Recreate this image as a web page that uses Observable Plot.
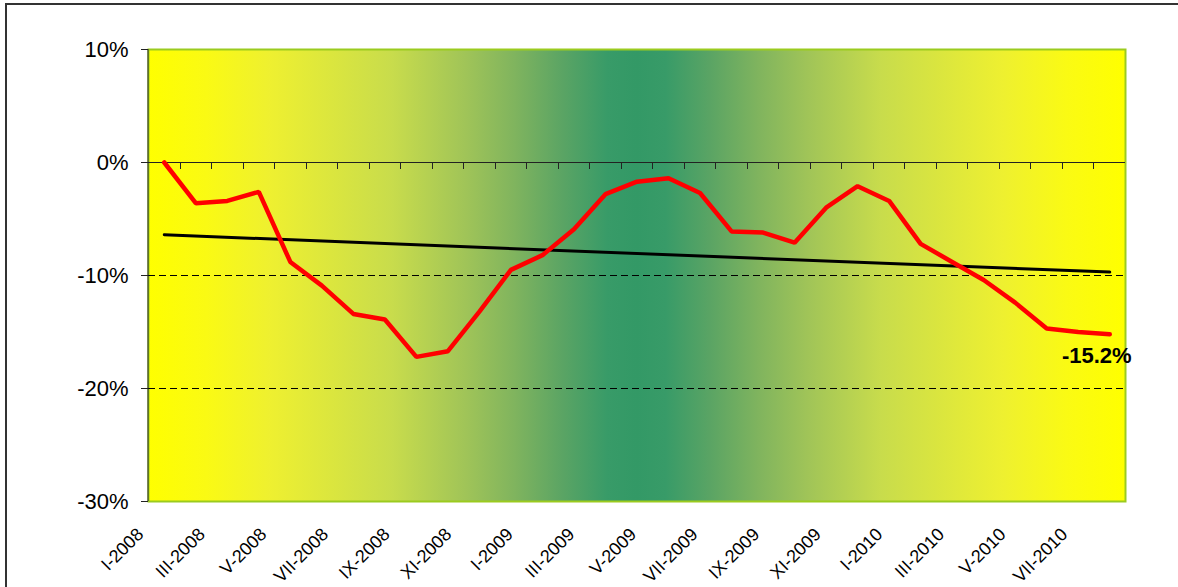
<!DOCTYPE html>
<html>
<head>
<meta charset="utf-8">
<script src="https://cdn.jsdelivr.net/npm/d3@7"></script>
<script src="https://cdn.jsdelivr.net/npm/@observablehq/plot@0.6"></script>
<style>
  html, body { margin: 0; padding: 0; background: #fff; }
  #wrap { position: relative; width: 1178px; height: 587px; overflow: hidden; font-family: "Liberation Sans", Arial, sans-serif; }
  #frame { position: absolute; left: 5px; top: 3px; width: 1300px; height: 700px; border-left: 2px solid #333; border-top: 2px solid #333; }
  #wrap svg { position: absolute; left: 0; top: 0; }
</style>
</head>
<body>
<div id="wrap"><div id="frame"></div></div>
<script>
// ---- data ----
const months = [
  "I-2008","II-2008","III-2008","IV-2008","V-2008","VI-2008","VII-2008","VIII-2008","IX-2008","X-2008","XI-2008","XII-2008",
  "I-2009","II-2009","III-2009","IV-2009","V-2009","VI-2009","VII-2009","VIII-2009","IX-2009","X-2009","XI-2009","XII-2009",
  "I-2010","II-2010","III-2010","IV-2010","V-2010","VI-2010","VII-2010"
];
const values = [
  0.0, -3.6, -3.4, -2.6, -8.8, -10.9, -13.4, -13.9, -17.2, -16.7, -13.2, -9.5,
  -8.2, -5.9, -2.8, -1.7, -1.4, -2.7, -6.1, -6.2, -7.1, -4.0, -2.1, -3.4,
  -7.2, -8.8, -10.4, -12.4, -14.7, -15.0, -15.2
];
const trendMonths = ["I-2008", "VII-2010"];
const trendValues = [-6.4, -9.7];
const yTicks = [-30, -20, -10, 0, 10];
const gridValues = [-10, -20];
const xTickLabels = ["I-2008","III-2008","V-2008","VII-2008","IX-2008","XI-2008","I-2009","III-2009","V-2009","VII-2009","IX-2009","XI-2009","I-2010","III-2010","V-2010","VII-2010"];

const series = months.map((m, i) => ({month: m, value: values[i]}));
const trend = trendMonths.map((m, i) => ({month: m, value: trendValues[i]}));
const last = series[series.length - 1];

const NS = "http://www.w3.org/2000/svg";
function el(name, attrs) {
  const e = document.createElementNS(NS, name);
  for (const k in attrs) e.setAttribute(k, attrs[k]);
  return e;
}

// gradient background of the plot area (yellow - sea green - yellow)
function background(index, scales, values, dim) {
  const g = el("g", {});
  const defs = el("defs", {});
  const lg = el("linearGradient", {id: "bgGrad", x1: "0", y1: "0", x2: "1", y2: "0"});
  const stops = [
    [0, "#FFFF00"], [0.06, "#FAFA14"], [0.125, "#EEF030"], [0.25, "#C8DC4C"], [0.325, "#A0C458"],
    [0.375, "#80B45E"], [0.425, "#5AA464"], [0.47, "#389B68"], [0.5, "#339966"], [0.53, "#389B68"],
    [0.575, "#5AA464"], [0.625, "#80B45E"], [0.675, "#A0C458"], [0.75, "#C8DC4C"], [0.875, "#EEF030"],
    [0.94, "#FAFA14"], [1, "#FFFF00"]
  ];
  for (const [o, c] of stops) lg.appendChild(el("stop", {offset: o, "stop-color": c}));
  defs.appendChild(lg);
  g.appendChild(defs);
  g.appendChild(el("rect", {
    x: dim.marginLeft, y: dim.marginTop,
    width: dim.width - dim.marginLeft - dim.marginRight,
    height: dim.height - dim.marginTop - dim.marginBottom,
    fill: "url(#bgGrad)"
  }));
  return g;
}

// category tick marks below the 0% line, and the left axis line
function axisDecor(index, scales, values, dim) {
  const g = el("g", {stroke: "#222", "stroke-width": 1});
  const y0 = scales.y(0);
  for (const m of months.slice(1)) {
    const x = Math.round(scales.x(m)) + 0.5;
    g.appendChild(el("line", {x1: x, x2: x, y1: y0, y2: y0 + 7}));
  }
  const xl = dim.marginLeft;
  g.appendChild(el("line", {x1: xl, x2: xl, y1: dim.marginTop, y2: dim.height - dim.marginBottom}));
  return g;
}

const main = Plot.plot({
  width: 1178,
  height: 587,
  marginLeft: 148,
  marginRight: 53,
  marginTop: 49,
  marginBottom: 86,
  style: {background: "transparent", fontFamily: "'Liberation Sans', Arial, sans-serif", color: "#000", overflow: "visible"},
  x: {type: "band", domain: months, padding: 0, round: false, axis: null},
  y: {domain: [-30, 10], axis: null},
  marks: [
    background,
    Plot.frame({stroke: "#9BCB1F", strokeWidth: 2}),
    Plot.ruleY(gridValues, {stroke: "#000", strokeWidth: 1, strokeDasharray: "7,4"}),
    Plot.ruleY([0], {stroke: "#222", strokeWidth: 1}),
    axisDecor,
    Plot.axisY({ticks: yTicks, tickFormat: d => d + "%", tickSize: 7, tickPadding: 13, fontSize: 22, stroke: "#222", label: null}),
    Plot.line(trend, {x: "month", y: "value", stroke: "#000", strokeWidth: 3}),
    Plot.line(series, {x: "month", y: "value", stroke: "#FF0000", strokeWidth: 4.5, strokeLinejoin: "miter", strokeLinecap: "round"}),
    Plot.text([last], {x: "month", y: "value", text: d => d.value.toFixed(1) + "%", dx: -13, dy: 22, fontSize: 22, fontWeight: "bold", fill: "#000"})
  ]
});

// rotated category labels (every second month)
const labels = Plot.plot({
  width: 1178,
  height: 587,
  marginLeft: 144,
  marginRight: 110,
  marginTop: 0,
  marginBottom: 52,
  style: {background: "transparent", fontFamily: "'Liberation Sans', Arial, sans-serif", color: "#000", overflow: "visible"},
  x: {type: "point", domain: xTickLabels, padding: 0, round: false, axis: null},
  marks: [
    Plot.text(xTickLabels, {x: d => d, text: d => d, frameAnchor: "bottom", rotate: -45, textAnchor: "end", lineAnchor: "bottom", fontSize: 18, fill: "#000"})
  ]
});

const wrap = document.getElementById("wrap");
wrap.appendChild(main);
wrap.appendChild(labels);
</script>
</body>
</html>
